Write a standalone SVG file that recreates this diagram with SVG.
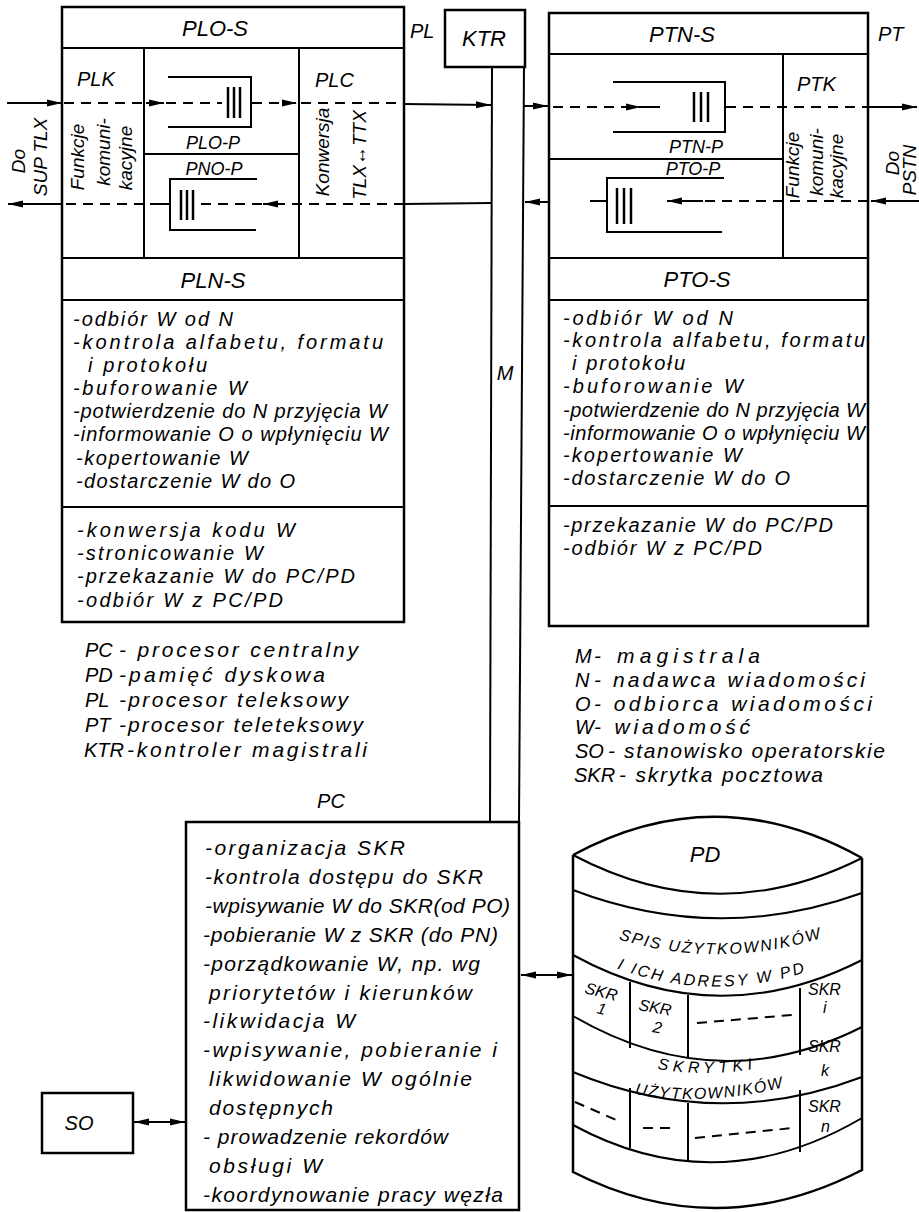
<svg xmlns="http://www.w3.org/2000/svg" width="919" height="1212" viewBox="0 0 919 1212">
<defs>
<marker id="ah" markerUnits="userSpaceOnUse" markerWidth="16" markerHeight="10" refX="15" refY="5" orient="auto-start-reverse" viewBox="0 0 16 10"><path d="M0,1.5 L15,5 L0,8.5 z" fill="#000"/></marker>
<path id="p1" d="M612,937 Q717,972 828,936"/>
<path id="p2" d="M610,966 Q710,1005 812,970"/>
<path id="p3" d="M652,1068 Q705,1078 758,1068"/>
<path id="p4" d="M630,1093 Q705,1108 788,1086"/>
</defs>
<style>
.box{fill:none;stroke:#000;stroke-width:2.5}
.ln{fill:none;stroke:#000;stroke-width:2}
.dash{fill:none;stroke:#000;stroke-width:2;stroke-dasharray:10 7}
.bar{stroke:#000;stroke-width:2.5}
text{font-family:"Liberation Sans",Arial,sans-serif;font-style:italic;fill:#000}
.h{font-size:22px}
.l{font-size:20px}
.g{font-size:21px}
.p{font-size:21px}
.q{font-size:18px}
.s{font-size:16px}
.v{font-size:19px}
.m{text-anchor:middle}
</style>
<rect width="919" height="1212" fill="#fff"/>

<g id="PL">
<rect class="box" x="62" y="7" width="342" height="615"/>
<line class="ln" x1="62" y1="48" x2="404" y2="48"/>
<line class="ln" x1="144" y1="48" x2="144" y2="258"/>
<line class="ln" x1="299" y1="48" x2="299" y2="258"/>
<line class="ln" x1="144" y1="154" x2="299" y2="154"/>
<line class="ln" x1="62" y1="258" x2="404" y2="258"/>
<line class="ln" x1="62" y1="300" x2="404" y2="300"/>
<line class="ln" x1="62" y1="507" x2="404" y2="507"/>
<polyline class="ln" points="168,77 251,77 251,127 168,127"/>
<line class="bar" x1="228" y1="87" x2="228" y2="118"/>
<line class="bar" x1="234" y1="87" x2="234" y2="118"/>
<line class="bar" x1="240" y1="87" x2="240" y2="118"/>
<polyline class="ln" points="257,179 170,179 170,230 256,230"/>
<line class="bar" x1="181" y1="190" x2="181" y2="220"/>
<line class="bar" x1="187" y1="190" x2="187" y2="220"/>
<line class="bar" x1="193" y1="190" x2="193" y2="220"/>
<text class="h m" x="215" y="36">PLO-S</text>
<text class="l" x="410" y="38">PL</text>
<text class="l" x="77" y="86">PLK</text>
<text class="l" x="315" y="87">PLC</text>
<text class="q m" x="213" y="149">PLO-P</text>
<text class="q m" x="214" y="175">PNO-P</text>
<text class="v m" transform="translate(84,157) rotate(-90)">Funkcje</text>
<text class="v m" transform="translate(110,152) rotate(-90)">komuni-</text>
<text class="v m" transform="translate(132,158) rotate(-90)">kacyjne</text>
<text class="v m" transform="translate(329,152) rotate(-90)">Konwersja</text>
<text class="v m" transform="translate(366,155) rotate(-90)">TLX↔TTX</text>
<text class="h m" x="213" y="288">PLN-S</text>
<text class="l" x="73" y="326" textLength="160" lengthAdjust="spacing">-odbiór W od N</text>
<text class="l" x="73" y="349" textLength="310" lengthAdjust="spacing">-kontrola alfabetu, formatu</text>
<text class="l" x="88" y="372" textLength="119" lengthAdjust="spacing">i protokołu</text>
<text class="l" x="73" y="395" textLength="174" lengthAdjust="spacing">-buforowanie W</text>
<text class="l" x="73" y="418" textLength="314" lengthAdjust="spacing">-potwierdzenie do N przyjęcia W</text>
<text class="l" x="73" y="441" textLength="315" lengthAdjust="spacing">-informowanie O o wpłynięciu W</text>
<text class="l" x="76" y="465" textLength="172" lengthAdjust="spacing">-kopertowanie W</text>
<text class="l" x="76" y="488" textLength="219" lengthAdjust="spacing">-dostarczenie W do O</text>
<text class="l" x="77" y="537" textLength="218" lengthAdjust="spacing">-konwersja kodu W</text>
<text class="l" x="77" y="560" textLength="186" lengthAdjust="spacing">-stronicowanie W</text>
<text class="l" x="77" y="583" textLength="278" lengthAdjust="spacing">-przekazanie W do PC/PD</text>
<text class="l" x="77" y="607" textLength="206" lengthAdjust="spacing">-odbiór W z PC/PD</text>
</g>

<g id="KTR">
<rect class="box" x="445" y="10" width="80" height="57"/>
<text class="h m" x="484" y="46">KTR</text>
</g>

<g id="M">
<line class="ln" x1="492" y1="67" x2="490" y2="822"/>
<line class="ln" x1="524" y1="67" x2="519" y2="822"/>
<text class="l m" x="505" y="380">M</text>
</g>

<g id="PT">
<rect class="box" x="549" y="13" width="319" height="613"/>
<line class="ln" x1="549" y1="54" x2="868" y2="54"/>
<line class="ln" x1="783" y1="54" x2="783" y2="258"/>
<line class="ln" x1="549" y1="159" x2="783" y2="159"/>
<line class="ln" x1="549" y1="258" x2="868" y2="258"/>
<line class="ln" x1="549" y1="300" x2="868" y2="300"/>
<line class="ln" x1="549" y1="506" x2="868" y2="506"/>
<polyline class="ln" points="613,82 725,82 725,132 613,132"/>
<line class="bar" x1="694" y1="92" x2="694" y2="122"/>
<line class="bar" x1="701" y1="92" x2="701" y2="122"/>
<line class="bar" x1="708" y1="92" x2="708" y2="122"/>
<polyline class="ln" points="724,178 607,178 607,232 722,232"/>
<line class="bar" x1="617" y1="188" x2="617" y2="224"/>
<line class="bar" x1="624" y1="188" x2="624" y2="224"/>
<line class="bar" x1="631" y1="188" x2="631" y2="224"/>
<text class="h m" x="682" y="42">PTN-S</text>
<text class="l" x="878" y="41">PT</text>
<text class="l" x="797" y="91">PTK</text>
<text class="q m" x="696" y="153">PTN-P</text>
<text class="q m" x="693" y="175">PTO-P</text>
<text class="v m" transform="translate(799,165) rotate(-90)">Funkcje</text>
<text class="v m" transform="translate(823,162) rotate(-90)">komuni-</text>
<text class="v m" transform="translate(843,166) rotate(-90)">kacyjne</text>
<text class="h m" x="697" y="287">PTO-S</text>
<text class="l" x="563" y="325" textLength="170" lengthAdjust="spacing">-odbiór W od N</text>
<text class="l" x="563" y="347" textLength="302" lengthAdjust="spacing">-kontrola alfabetu, formatu</text>
<text class="l" x="572" y="370" textLength="113" lengthAdjust="spacing">i protokołu</text>
<text class="l" x="563" y="393" textLength="180" lengthAdjust="spacing">-buforowanie W</text>
<text class="l" x="563" y="417" textLength="302" lengthAdjust="spacing">-potwierdzenie do N przyjęcia W</text>
<text class="l" x="563" y="440" textLength="302" lengthAdjust="spacing">-informowanie O o wpłynięciu W</text>
<text class="l" x="563" y="462" textLength="179" lengthAdjust="spacing">-kopertowanie W</text>
<text class="l" x="563" y="485" textLength="227" lengthAdjust="spacing">-dostarczenie W do O</text>
<text class="l" x="563" y="532" textLength="270" lengthAdjust="spacing">-przekazanie W do PC/PD</text>
<text class="l" x="563" y="555" textLength="199" lengthAdjust="spacing">-odbiór W z PC/PD</text>
</g>

<g id="ext-labels">
<text class="v m" transform="translate(25,161) rotate(-90)">Do</text>
<text class="v m" transform="translate(47,157) rotate(-90)">SUP TLX</text>
<text class="v m" transform="translate(899,163) rotate(-90)">Do</text>
<text class="v m" transform="translate(916,170) rotate(-90)">PSTN</text>
</g>

<g id="legend-left">
<text class="l" x="85" y="657">PC</text>
<text class="g" x="119" y="657" textLength="239" lengthAdjust="spacing">- procesor centralny</text>
<text class="l" x="85" y="682">PD</text>
<text class="g" x="119" y="682" textLength="206" lengthAdjust="spacing">-pamięć  dyskowa</text>
<text class="l" x="85" y="707">PL</text>
<text class="g" x="119" y="707" textLength="229" lengthAdjust="spacing">-procesor teleksowy</text>
<text class="l" x="85" y="732">PT</text>
<text class="g" x="119" y="732" textLength="244" lengthAdjust="spacing">-procesor teleteksowy</text>
<text class="l" x="84" y="757">KTR</text>
<text class="g" x="127" y="757" textLength="240" lengthAdjust="spacing">-kontroler magistrali</text>
</g>

<g id="legend-right">
<text class="l" x="575" y="663">M</text>
<text class="g" x="594" y="663" textLength="166" lengthAdjust="spacing">- magistrala</text>
<text class="l" x="575" y="687">N</text>
<text class="g" x="594" y="687" textLength="271" lengthAdjust="spacing">- nadawca wiadomości</text>
<text class="l" x="575" y="711">O</text>
<text class="g" x="594" y="711" textLength="278" lengthAdjust="spacing">- odbiorca wiadomości</text>
<text class="l" x="575" y="734">W</text>
<text class="g" x="594" y="734" textLength="156" lengthAdjust="spacing">- wiadomość</text>
<text class="l" x="575" y="758">SO</text>
<text class="g" x="608" y="758" textLength="277" lengthAdjust="spacing">- stanowisko operatorskie</text>
<text class="l" x="574" y="782">SKR</text>
<text class="g" x="619" y="782" textLength="204" lengthAdjust="spacing">- skrytka pocztowa</text>
</g>

<g id="PC">
<text class="l m" x="331" y="808">PC</text>
<rect class="box" x="186" y="822" width="333" height="388"/>
<text class="p" x="205" y="855" textLength="200" lengthAdjust="spacing">-organizacja SKR</text>
<text class="p" x="205" y="884" textLength="278" lengthAdjust="spacing">-kontrola dostępu do SKR</text>
<text class="p" x="205" y="913" textLength="305" lengthAdjust="spacing">-wpisywanie W do SKR(od PO)</text>
<text class="p" x="203" y="942" textLength="295" lengthAdjust="spacing">-pobieranie W z SKR (do PN)</text>
<text class="p" x="203" y="971" textLength="277" lengthAdjust="spacing">-porządkowanie W, np. wg</text>
<text class="p" x="209" y="1000" textLength="263" lengthAdjust="spacing">priorytetów i kierunków</text>
<text class="p" x="203" y="1028" textLength="152" lengthAdjust="spacing">-likwidacja W</text>
<text class="p" x="203" y="1057" textLength="294" lengthAdjust="spacing">-wpisywanie, pobieranie i</text>
<text class="p" x="209" y="1086" textLength="263" lengthAdjust="spacing">likwidowanie W ogólnie</text>
<text class="p" x="209" y="1115" textLength="124" lengthAdjust="spacing">dostępnych</text>
<text class="p" x="203" y="1144" textLength="245" lengthAdjust="spacing">- prowadzenie rekordów</text>
<text class="p" x="209" y="1173" textLength="113" lengthAdjust="spacing">obsługi W</text>
<text class="p" x="203" y="1202" textLength="300" lengthAdjust="spacing">-koordynowanie pracy węzła</text>
</g>

<g id="SO">
<rect class="box" x="42" y="1093" width="91" height="60"/>
<text class="l m" x="79" y="1130">SO</text>
</g>

<g id="PD">
<path class="box" d="M573,855 L573,1172 Q717,1245 862,1170 L862,858"/>
<path class="box" d="M573,855 Q717,777 862,858"/>
<path class="ln" d="M573,855 Q717,931 862,858"/>
<path class="ln" d="M573,890 Q717,945 862,893"/>
<path class="ln" d="M573,955 Q717,1034 862,960"/>
<path class="ln" d="M573,1016 Q717,1100 862,1027"/>
<path class="ln" d="M573,1072 Q717,1132 862,1077"/>
<path class="ln" d="M573,1125 Q717,1203 862,1118"/>
<line class="ln" x1="630" y1="982" x2="630" y2="1048"/>
<line class="ln" x1="688" y1="995" x2="688" y2="1057"/>
<line class="ln" x1="800" y1="988" x2="800" y2="1055"/>
<line class="ln" x1="630" y1="1088" x2="630" y2="1148"/>
<line class="ln" x1="688" y1="1103" x2="688" y2="1162"/>
<line class="ln" x1="800" y1="1090" x2="800" y2="1152"/>
<line class="dash" x1="697" y1="1023" x2="792" y2="1015"/>
<line class="dash" x1="575" y1="1102" x2="621" y2="1122"/>
<line class="dash" x1="643" y1="1128" x2="677" y2="1128"/>
<line class="dash" x1="695" y1="1138" x2="793" y2="1128"/>
<text class="h m" x="705" y="862">PD</text>
<text class="s m"><textPath href="#p1" startOffset="50%" textLength="206" lengthAdjust="spacing">SPIS UŻYTKOWNIKÓW</textPath></text>
<text class="s m"><textPath href="#p2" startOffset="50%" textLength="192" lengthAdjust="spacing">I ICH ADRESY W PD</textPath></text>
<text class="s m"><textPath href="#p3" startOffset="50%" textLength="96" lengthAdjust="spacing">SKRYTKI</textPath></text>
<text class="s m"><textPath href="#p4" startOffset="50%" textLength="150" lengthAdjust="spacing">UŻYTKOWNIKÓW</textPath></text>
<text class="s" transform="translate(584,993) rotate(14)">SKR</text>
<text class="s" transform="translate(596,1013) rotate(14)">1</text>
<text class="s" transform="translate(638,1010) rotate(10)">SKR</text>
<text class="s" transform="translate(652,1032) rotate(10)">2</text>
<text class="s" x="808" y="995">SKR</text>
<text class="s" x="823" y="1013">i</text>
<text class="s" x="808" y="1052">SKR</text>
<text class="s" x="821" y="1076">k</text>
<text class="s" x="808" y="1112">SKR</text>
<text class="s" x="821" y="1132">n</text>
</g>

<g id="connectors">
<line class="ln" x1="7" y1="103" x2="62" y2="103" marker-end="url(#ah)"/>
<line class="dash" x1="64" y1="103" x2="144" y2="103"/>
<line class="ln" x1="146" y1="103" x2="164" y2="103" marker-end="url(#ah)"/>
<line class="dash" x1="166" y1="103" x2="222" y2="103"/>
<line class="dash" x1="252" y1="103" x2="297" y2="103" marker-end="url(#ah)"/>
<line class="dash" x1="301" y1="103" x2="404" y2="103"/>
<line class="ln" x1="404" y1="104" x2="491" y2="105" marker-end="url(#ah)"/>
<line class="ln" x1="524" y1="106" x2="548" y2="106" marker-end="url(#ah)"/>
<line class="dash" x1="553" y1="107" x2="641" y2="107" marker-end="url(#ah)"/>
<line class="ln" x1="640" y1="107" x2="660" y2="107"/>
<line class="dash" x1="726" y1="107" x2="868" y2="107"/>
<line class="ln" x1="868" y1="107" x2="917" y2="107" marker-end="url(#ah)"/>
<line class="ln" x1="919" y1="201" x2="871" y2="201" marker-end="url(#ah)"/>
<line class="dash" x1="868" y1="201" x2="703" y2="201"/>
<line class="ln" x1="703" y1="201" x2="667" y2="201" marker-end="url(#ah)"/>
<line class="ln" x1="607" y1="201" x2="590" y2="201"/>
<line class="ln" x1="549" y1="202" x2="525" y2="202" marker-end="url(#ah)"/>
<line class="ln" x1="491" y1="203" x2="404" y2="204"/>
<line class="dash" x1="404" y1="204" x2="263" y2="204" marker-end="url(#ah)"/>
<line class="dash" x1="262" y1="204" x2="198" y2="204"/>
<line class="ln" x1="170" y1="204" x2="150" y2="204"/>
<line class="dash" x1="144" y1="204" x2="62" y2="204"/>
<line class="ln" x1="62" y1="204" x2="8" y2="204" marker-end="url(#ah)"/>
<line class="ln" x1="521" y1="975" x2="572" y2="975" marker-start="url(#ah)" marker-end="url(#ah)"/>
<line class="ln" x1="134" y1="1122" x2="185" y2="1122" marker-start="url(#ah)" marker-end="url(#ah)"/>
</g>
</svg>
